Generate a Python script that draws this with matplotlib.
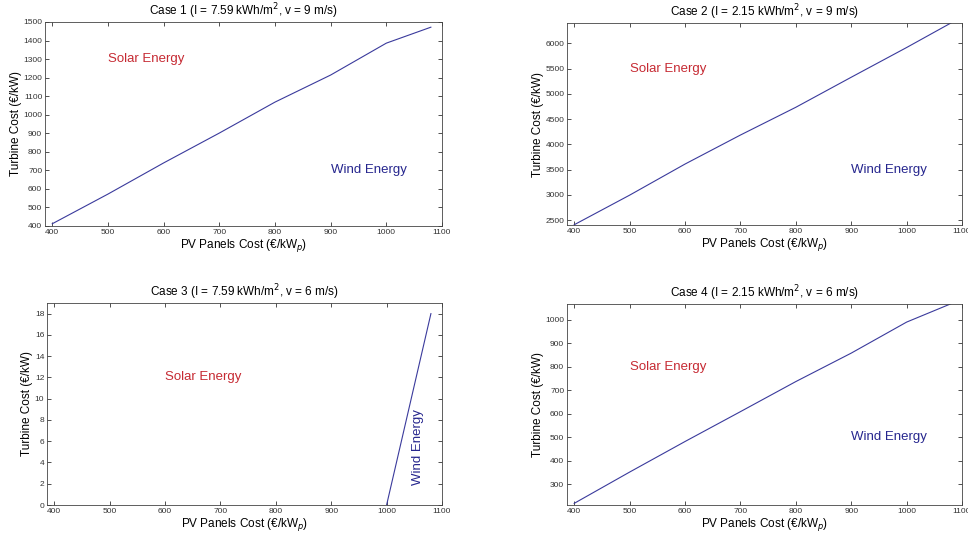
import matplotlib.pyplot as plt

plt.rcParams['font.family'] = ['Liberation Sans', 'DejaVu Sans']

# PV panel cost (x) and break-even turbine cost (y) for each case
pv_cost = [400, 500, 600, 700, 800, 900, 1000, 1080]
case1_turbine = [412, 572, 740, 901, 1068, 1214, 1386, 1472]
case2_turbine = [2410, 2995, 3610, 4184, 4733, 5327, 5915, 6400]
case4_turbine = [219, 352, 482, 609, 737, 858, 990, 1068]
case3_pv = [1000, 1080]
case3_turbine = [0, 18]

titles = ['Case 1 (I = 7.59 kWh/m$^2$, v = 9 m/s)',
          'Case 2 (I = 2.15 kWh/m$^2$, v = 9 m/s)',
          'Case 3 (I = 7.59 kWh/m$^2$, v = 6 m/s)',
          'Case 4 (I = 2.15 kWh/m$^2$, v = 6 m/s)']

W, H = 968, 540
fig = plt.figure(figsize=(W / 100, H / 100), dpi=100)


def make_ax(l, r, t, b):
    return fig.add_axes([l / W, 1 - b / H, (r - l) / W, (b - t) / H])


axes = [make_ax(45, 442, 22, 226), make_ax(567, 962, 23, 225),
        make_ax(47, 442, 303, 505), make_ax(567, 962, 304, 505)]

line_color = '#3a3a9c'
solar_color = '#c62a33'
wind_color = '#26268e'

data = [(pv_cost, case1_turbine), (pv_cost, case2_turbine),
        (case3_pv, case3_turbine), (pv_cost, case4_turbine)]
ylims = [(400, 1500), (2405, 6400), (0, 19), (212, 1067)]
yticks = [range(400, 1501, 100), range(2500, 6001, 500),
          range(0, 19, 2), range(300, 1001, 100)]

for i, ax in enumerate(axes):
    x, y = data[i]
    ax.plot(x, y, color=line_color, lw=0.8)
    ax.set_xlim(387, 1100)
    ax.set_ylim(*ylims[i])
    ax.set_xticks(range(400, 1101, 100))
    ax.set_yticks(list(yticks[i]))
    ax.tick_params(direction='in', top=True, right=True, labelsize=6,
                   length=3, width=0.6, pad=2, colors='#333333')
    for s in ax.spines.values():
        s.set_linewidth(0.6)
        s.set_color('#444444')
    ax.set_title(titles[i], fontsize=8.5, pad=5)
    ax.set_xlabel('PV Panels Cost (€/kW$_p$)', fontsize=8.5, labelpad=1)
    ax.set_ylabel('Turbine Cost (€/kW)', fontsize=8.5, labelpad=1)

axes[0].text(500, 1300, 'Solar Energy', color=solar_color, fontsize=9.5, va='center')
axes[0].text(900, 700, 'Wind Energy', color=wind_color, fontsize=9.5, va='center')
axes[1].text(500, 5500, 'Solar Energy', color=solar_color, fontsize=9.5, va='center')
axes[1].text(900, 3500, 'Wind Energy', color=wind_color, fontsize=9.5, va='center')
axes[2].text(600, 12, 'Solar Energy', color=solar_color, fontsize=9.5, va='center')
axes[2].text(1056, 1.9, 'Wind Energy', color=wind_color, fontsize=9.5,
             rotation=90, ha='center', va='bottom')
axes[3].text(500, 800, 'Solar Energy', color=solar_color, fontsize=9.5, va='center')
axes[3].text(900, 500, 'Wind Energy', color=wind_color, fontsize=9.5, va='center')

fig.savefig('out.png', dpi=100)
